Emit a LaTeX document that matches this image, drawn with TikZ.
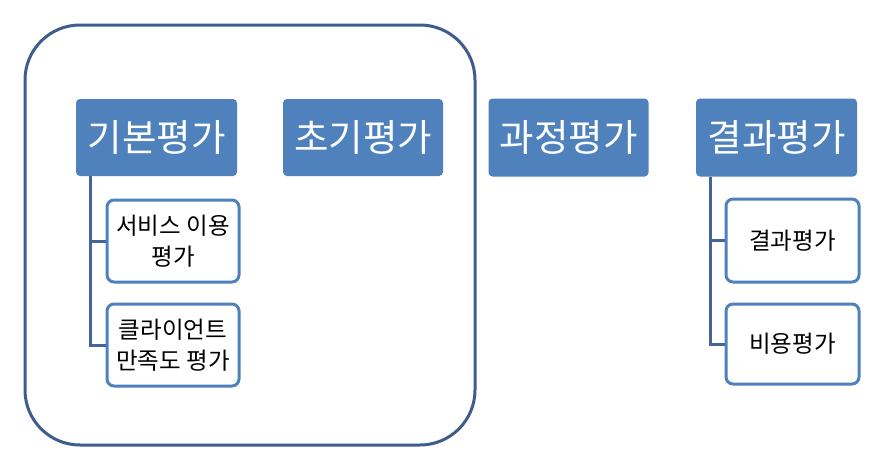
\documentclass[tikz,border=0pt]{standalone}
\usepackage{fontspec}
\newfontfamily\kr{Noto Sans CJK KR}
\definecolor{topblue}{HTML}{4F81BD}
\definecolor{lineblue}{HTML}{43659A}
\definecolor{frameblue}{HTML}{3E5C8C}
\begin{document}
\begin{tikzpicture}[x=1pt,y=-1pt,
  topbox/.style={fill=topblue, draw=none, rounded corners=4pt, text=white, font=\kr\fontsize{37.5}{40}\selectfont, inner sep=0pt},
  subbox/.style={fill=white, draw=topblue, line width=3pt, rounded corners=7pt, font=\kr\fontsize{23.5}{31}\selectfont, align=center, inner sep=0pt},
  conn/.style={draw=lineblue, line width=3pt}]
\useasboundingbox (0,0) rectangle (887,464);
\fill[white] (0,0) rectangle (887,464);
\node[draw=frameblue, line width=3pt, rounded corners=55pt, minimum width=450pt, minimum height=420pt] (frame) at (250,235) {};
% top boxes
\node[topbox, minimum width=161pt, minimum height=77pt] (a) at (156.5,137.5) {기본평가};
\node[topbox, minimum width=160pt, minimum height=77pt] (b) at (363,137.5) {초기평가};
\node[topbox, minimum width=160pt, minimum height=78pt] (c) at (568.5,137.5) {과정평가};
\node[topbox, minimum width=161pt, minimum height=78pt] (d) at (776.5,137.5) {결과평가};
% sub boxes
\node[subbox, minimum width=132pt, minimum height=82pt] (a1) at (173,241) {서비스 이용\\평가};
\node[subbox, minimum width=132pt, minimum height=82pt] (a2) at (173,345) {클라이언트\\만족도 평가};
\node[subbox, minimum width=133pt, minimum height=83pt] (d1) at (792.5,240.5) {결과평가};
\node[subbox, minimum width=133pt, minimum height=80pt] (d2) at (792.5,344) {비용평가};
% connectors
\coordinate (ax) at (90,176);
\coordinate (dx) at (710,177);
\draw[conn] (ax) |- (a1.west);
\draw[conn] (ax) |- (a2.west);
\draw[conn] (dx) |- (d1.west);
\draw[conn] (dx) |- (d2.west);
\end{tikzpicture}
\end{document}
